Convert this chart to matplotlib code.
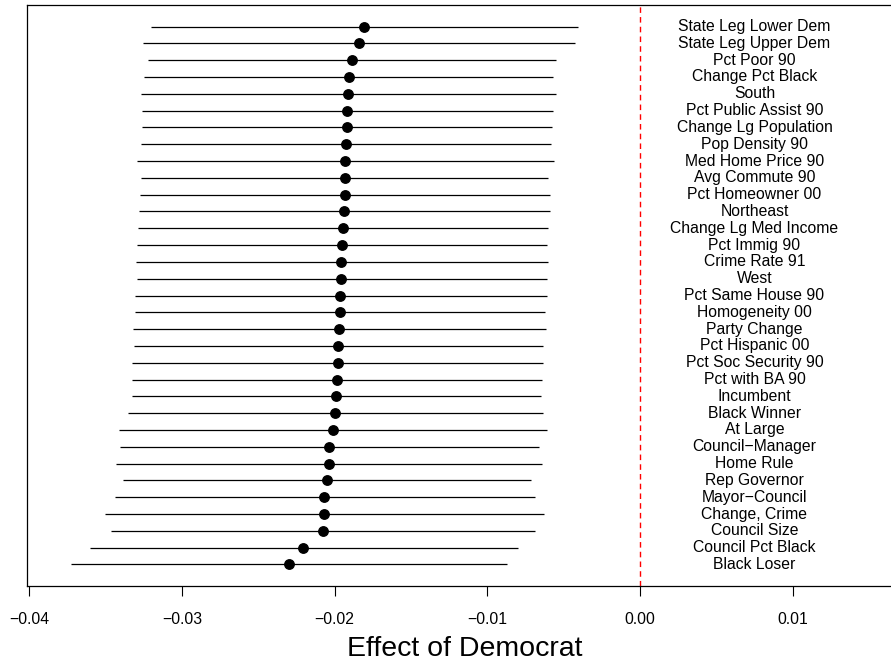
import numpy as np
import matplotlib
matplotlib.use("Agg")
import matplotlib.pyplot as plt

plt.rcParams["font.family"] = ["Liberation Sans", "DejaVu Sans"]

# listed top to bottom as in the figure
labels = [
    "State Leg Lower Dem", "State Leg Upper Dem", "Pct Poor 90", "Change Pct Black",
    "South", "Pct Public Assist 90", "Change Lg Population", "Pop Density 90",
    "Med Home Price 90", "Avg Commute 90", "Pct Homeowner 00", "Northeast",
    "Change Lg Med Income", "Pct Immig 90", "Crime Rate 91", "West",
    "Pct Same House 90", "Homogeneity 00", "Party Change", "Pct Hispanic 00",
    "Pct Soc Security 90", "Pct with BA 90", "Incumbent", "Black Winner",
    "At Large", "Council\u2212Manager", "Home Rule", "Rep Governor",
    "Mayor\u2212Council", "Change, Crime", "Council Size", "Council Pct Black",
    "Black Loser",
]
estimate = [
    -0.01807, -0.01840, -0.01886, -0.01908, -0.01910, -0.01917, -0.01919, -0.01925,
    -0.01932, -0.01934, -0.01934, -0.01936, -0.01947, -0.01954, -0.01956, -0.01956,
    -0.01962, -0.01965, -0.01971, -0.01978, -0.01980, -0.01986, -0.01989, -0.01995,
    -0.02013, -0.02037, -0.02039, -0.02052, -0.02067, -0.02069, -0.02074, -0.02205,
    -0.02299,
]
lower = [
    -0.03204, -0.03257, -0.03220, -0.03246, -0.03268, -0.03261, -0.03261, -0.03266,
    -0.03296, -0.03266, -0.03274, -0.03281, -0.03287, -0.03294, -0.03303, -0.03296,
    -0.03309, -0.03307, -0.03320, -0.03316, -0.03325, -0.03327, -0.03327, -0.03353,
    -0.03412, -0.03407, -0.03432, -0.03388, -0.03440, -0.03504, -0.03462, -0.03602,
    -0.03724,
]
upper = [
    -0.00408, -0.00424, -0.00552, -0.00568, -0.00550, -0.00572, -0.00574, -0.00585,
    -0.00565, -0.00600, -0.00591, -0.00591, -0.00605, -0.00611, -0.00602, -0.00609,
    -0.00611, -0.00620, -0.00618, -0.00637, -0.00633, -0.00644, -0.00650, -0.00637,
    -0.00609, -0.00663, -0.00644, -0.00716, -0.00690, -0.00631, -0.00686, -0.00801,
    -0.00871,
]
xticks = [-0.04, -0.03, -0.02, -0.01, 0.00, 0.01]
label_x = 0.0075

n = len(labels)
y = np.arange(n, 0, -1)

fig = plt.figure(figsize=(8.91, 6.66), dpi=100)
# plot box runs a little past the right edge of the picture (cropped like the original)
ax = fig.add_axes([27 / 891, 80 / 666, 875 / 891, 581 / 666])

ax.hlines(y, lower, upper, color="black", linewidth=0.9)
ax.plot(estimate, y, "o", color="black", markersize=6.8, zorder=3)
ax.axvline(0, color="red", linestyle=(0, (4, 3)), linewidth=1)

for yi, lab in zip(y, labels):
    ax.text(label_x, yi, lab, ha="center", va="center", fontsize=11.3)

ax.set_xlim(-0.04014, 0.01716)
ax.set_ylim(-0.28, n + 1.28)
ax.set_yticks([])
ax.set_xticks(xticks)
ax.set_xticklabels([f"{t:.2f}".replace("-", "\u2212") for t in xticks], fontsize=11.3)
ax.tick_params(axis="x", length=7, width=0.8, pad=11.5)
ax.set_xlabel("Effect of Democrat", fontsize=20.5, labelpad=7)
for s in ax.spines.values():
    s.set_linewidth(0.9)

fig.savefig("out.png", dpi=100)
